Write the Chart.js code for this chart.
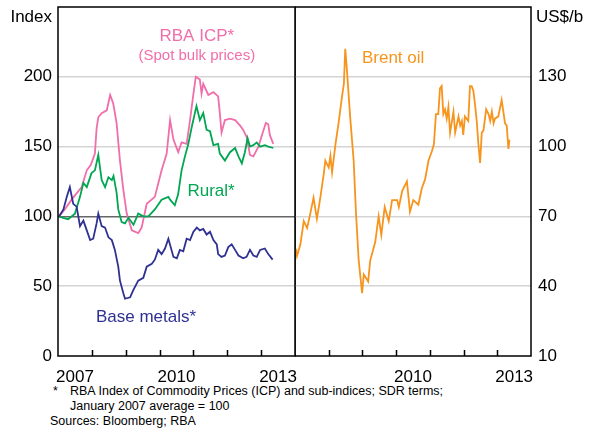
<!DOCTYPE html>
<html>
<head>
<meta charset="utf-8">
<script src="https://cdn.jsdelivr.net/npm/chart.js@4"></script>
<style>
  body { margin: 0; background: #fff; }
  #wrap { position: relative; width: 593px; height: 433px; font-family: "Liberation Sans", Arial, sans-serif; }
  canvas { position: absolute; top: 0; }
  .note { position: absolute; font-size: 12.5px; line-height: 15px; color: #000; white-space: nowrap; }
</style>
</head>
<body>
<div id="wrap">
  <canvas id="left" width="302" height="382" style="left:0"></canvas>
  <canvas id="right" width="298" height="382" style="left:295px"></canvas>
  <div class="note" style="left:53px; top:384px">*</div>
  <div class="note" style="left:70px; top:384px">RBA Index of Commodity Prices (ICP) and sub-indices; SDR terms;</div>
  <div class="note" style="left:70px; top:399px">January 2007 average = 100</div>
  <div class="note" style="left:50px; top:414px">Sources: Bloomberg; RBA</div>
</div>
<script>
"use strict";

// RBA ICP (spot bulk prices), index
const icpDates = [2007.03, 2007.20, 2007.40, 2007.70, 2007.85, 2007.97, 2008.09, 2008.14, 2008.19, 2008.29,
    2008.44, 2008.54, 2008.63, 2008.73, 2008.83, 2008.93, 2009.03, 2009.18, 2009.37, 2009.47,
    2009.62, 2009.86, 2010.06, 2010.21, 2010.31, 2010.41, 2010.55, 2010.65, 2010.80, 2010.90,
    2011.00, 2011.07, 2011.19, 2011.24, 2011.29, 2011.44, 2011.59, 2011.73, 2011.78, 2011.83,
    2011.93, 2012.08, 2012.23, 2012.38, 2012.47, 2012.57, 2012.67, 2012.77, 2012.92, 2013.06,
    2013.14, 2013.21, 2013.26, 2013.36];
const icpValues = [100, 105, 112, 121, 133, 137, 145, 163, 171, 174,
    176, 187, 181, 167, 140, 119, 102, 90, 88, 92,
    109, 114, 133, 145, 169, 155, 146, 153, 152, 169,
    188, 200, 198, 188, 195, 187, 189, 186, 174, 160,
    169, 170, 169, 165, 162, 157, 144, 143, 150, 161,
    167, 166, 158, 152];

// Rural sub-index
const ruralDates = [2007.03, 2007.15, 2007.30, 2007.50, 2007.65, 2007.75, 2007.85, 2007.99, 2008.09, 2008.19,
    2008.29, 2008.39, 2008.49, 2008.59, 2008.64, 2008.73, 2008.78, 2008.88, 2008.98, 2009.08,
    2009.23, 2009.37, 2009.52, 2009.67, 2009.86, 2010.06, 2010.26, 2010.31, 2010.45, 2010.55,
    2010.65, 2010.75, 2010.85, 2010.95, 2011.09, 2011.19, 2011.29, 2011.39, 2011.49, 2011.59,
    2011.73, 2011.78, 2011.93, 2012.08, 2012.23, 2012.33, 2012.43, 2012.52, 2012.60, 2012.67,
    2012.77, 2012.87, 2012.97, 2013.11, 2013.21, 2013.36];
const ruralValues = [100, 99, 98, 102, 114, 124, 121, 131, 133, 144,
    126, 121, 128, 126, 129, 117, 105, 96, 95, 99,
    94, 102, 100, 100, 105, 112, 114, 112, 108, 116,
    133, 143, 152, 164, 179, 169, 174, 162, 161, 151,
    152, 145, 140, 146, 149, 143, 138, 146, 156, 150,
    151, 153, 150, 151, 150, 149];

// Base metals sub-index
const metalsDates = [2007.03, 2007.16, 2007.26, 2007.35, 2007.45, 2007.55, 2007.65, 2007.75, 2007.85, 2007.95,
    2008.04, 2008.14, 2008.19, 2008.29, 2008.39, 2008.49, 2008.59, 2008.68, 2008.78, 2008.83,
    2008.93, 2008.98, 2009.13, 2009.22, 2009.37, 2009.52, 2009.62, 2009.77, 2009.86, 2009.96,
    2010.06, 2010.16, 2010.26, 2010.41, 2010.51, 2010.60, 2010.70, 2010.80, 2010.90, 2011.00,
    2011.10, 2011.19, 2011.29, 2011.39, 2011.49, 2011.59, 2011.69, 2011.73, 2011.83, 2011.93,
    2012.03, 2012.13, 2012.23, 2012.33, 2012.47, 2012.57, 2012.67, 2012.77, 2012.87, 2012.97,
    2013.11, 2013.21, 2013.34];
const metalsValues = [100, 105, 114, 121, 109, 107, 93, 97, 90, 83,
    84, 95, 102, 93, 92, 85, 83, 76, 64, 54,
    45, 41, 42, 47, 54, 56, 64, 66, 69, 76,
    73, 77, 84, 71, 70, 76, 75, 84, 83, 89,
    92, 90, 91, 87, 89, 83, 80, 73, 71, 72,
    78, 80, 76, 72, 70, 71, 76, 72, 71, 76,
    77, 73, 69];

// Brent oil, US$ per barrel
const brentDates = [2007.03, 2007.06, 2007.16, 2007.26, 2007.36, 2007.45, 2007.55, 2007.65, 2007.75, 2007.85,
    2007.90, 2008.00, 2008.05, 2008.10, 2008.20, 2008.30, 2008.39, 2008.45, 2008.49, 2008.54,
    2008.64, 2008.74, 2008.81, 2008.89, 2008.99, 2009.04, 2009.17, 2009.23, 2009.38, 2009.48,
    2009.56, 2009.66, 2009.78, 2009.88, 2010.03, 2010.08, 2010.18, 2010.32, 2010.41, 2010.51,
    2010.66, 2010.76, 2010.86, 2010.96, 2011.06, 2011.12, 2011.18, 2011.25, 2011.30, 2011.35,
    2011.40, 2011.45, 2011.50, 2011.55, 2011.60, 2011.70, 2011.75, 2011.85, 2011.90, 2011.95,
    2011.99, 2012.04, 2012.14, 2012.19, 2012.24, 2012.29, 2012.34, 2012.39, 2012.44, 2012.49,
    2012.54, 2012.59, 2012.67, 2012.74, 2012.79, 2012.84, 2012.89, 2012.93, 2013.03, 2013.13,
    2013.23, 2013.28, 2013.33, 2013.36];
const brentValues = [56, 53, 58, 68, 65, 71, 78, 69, 78, 88,
    94, 91, 96, 89, 101, 111, 121, 127, 142, 133,
    112, 94, 71, 51, 37, 45, 42, 51, 59, 70,
    62, 74, 68, 77, 77, 74, 81, 85, 72, 77,
    75, 82, 86, 94, 98, 101, 114, 114, 125, 126,
    114, 116, 112, 117, 106, 115, 106, 113, 109, 111,
    105, 113, 111, 126, 126, 124, 118, 111, 101, 93,
    106, 107, 116, 114, 111, 115, 110, 112, 113, 120,
    110, 109, 99, 103];

// year labels sit mid-year; the right panel has no 2007 label
const leftYearLabels = [2007.5, 2010.5, 2013.5];
const rightYearLabels = [2010.5, 2013.5];
const indexTicks = [0, 50, 100, 150, 200, 250];
const oilTicks = [10, 40, 70, 100, 130, 160];

const font = "'Liberation Sans', Arial, sans-serif";

function points(dates, values) {
    return dates.map((d, i) => ({ x: d, y: values[i] }));
}

function line(dates, values, color) {
    return {
        data: points(dates, values),
        borderColor: color,
        borderWidth: 1.8,
        pointRadius: 0,
        tension: 0,
        fill: false
    };
}

// frame, inward year ticks, unit label and in-plot labels
const decor = {
    id: 'decor',
    afterDatasetsDraw(chart, args, opts) {
        const c = chart.ctx;
        const a = chart.chartArea;
        const xs = chart.scales.x;
        const ys = chart.scales.y;
        c.save();
        c.strokeStyle = '#000';
        c.lineWidth = 1.5;
        c.strokeRect(a.left, a.top, a.right - a.left, a.bottom - a.top);
        c.beginPath();
        for (let yr = 2008; yr <= 2013; yr++) {
            const px = Math.round(xs.getPixelForValue(yr)) + 0.5;
            c.moveTo(px, a.bottom);
            c.lineTo(px, a.bottom - 6);
        }
        c.stroke();

        c.font = '17px ' + font;
        c.fillStyle = '#000';
        c.textBaseline = 'middle';
        if (opts.side === 'left') {
            c.textAlign = 'right';
            c.fillText(opts.unit, a.left - 6, a.top + 10);
        } else {
            c.textAlign = 'left';
            c.fillText(opts.unit, a.right + 5, a.top + 10);
        }

        c.textAlign = 'center';
        opts.labels.forEach(l => {
            c.font = l.size + 'px ' + font;
            c.fillStyle = l.color;
            c.fillText(l.text, xs.getPixelForValue(l.x), ys.getPixelForValue(l.y));
        });
        c.restore();
    }
};

function xAxis(labels) {
    return {
        type: 'linear',
        min: 2007,
        max: 2014,
        grid: { display: false },
        border: { display: false },
        afterBuildTicks: (s) => { s.ticks = labels.map(v => ({ value: v })); },
        afterFit: (s) => { s.height = 26; s.paddingLeft = 0; s.paddingRight = 0; },
        ticks: {
            padding: 3,
            color: '#000',
            font: { size: 17, family: font },
            maxRotation: 0,
            autoSkip: false,
            callback: (v) => String(Math.floor(v))
        }
    };
}

function yAxis(ticks, position, width, darkValue, pad) {
    const top = ticks[ticks.length - 1];
    return {
        type: 'linear',
        position: position,
        min: ticks[0],
        max: top,
        border: { display: false },
        afterBuildTicks: (s) => { s.ticks = ticks.map(v => ({ value: v })); },
        afterFit: (s) => { s.width = width; s.paddingTop = 0; s.paddingBottom = 0; },
        grid: {
            drawTicks: false,
            color: (ctx) => {
                const v = ctx.tick.value;
                if (v === ticks[0] || v === top) return 'rgba(0,0,0,0)';
                return v === darkValue ? '#666666' : '#d4d4d4';
            },
            lineWidth: 1.5
        },
        ticks: {
            padding: pad,
            color: '#000',
            font: { size: 17, family: font },
            callback: (v) => v === top ? '' : String(v)
        }
    };
}

new Chart(document.getElementById('left'), {
    type: 'line',
    data: {
        datasets: [
            line(metalsDates, metalsValues, '#2E3192'),
            line(ruralDates, ruralValues, '#00A651'),
            line(icpDates, icpValues, '#F06EAA')
        ]
    },
    options: {
        responsive: false,
        animation: false,
        layout: { padding: { top: 7, right: 7, left: 0, bottom: 0 } },
        scales: {
            x: xAxis(leftYearLabels),
            y: yAxis(indexTicks, 'left', 58, 100, 6)
        },
        plugins: {
            legend: { display: false },
            tooltip: { enabled: false },
            decor: {
                side: 'left',
                unit: 'Index',
                labels: [
                    { text: 'RBA ICP*', x: 2011.1, y: 229, size: 17, color: '#F06EAA' },
                    { text: '(Spot bulk prices)', x: 2011.1, y: 215, size: 15, color: '#F06EAA' },
                    { text: 'Rural*', x: 2011.52, y: 118, size: 17, color: '#00A651' },
                    { text: 'Base metals*', x: 2009.6, y: 28, size: 17, color: '#2E3192' }
                ]
            }
        }
    },
    plugins: [decor]
});

new Chart(document.getElementById('right'), {
    type: 'line',
    data: {
        datasets: [line(brentDates, brentValues, '#F7941D')]
    },
    options: {
        responsive: false,
        animation: false,
        layout: { padding: { top: 7, right: 0, left: 0, bottom: 0 } },
        scales: {
            x: xAxis(rightYearLabels),
            y: yAxis(oilTicks, 'right', 62, null, 7)
        },
        plugins: {
            legend: { display: false },
            tooltip: { enabled: false },
            decor: {
                side: 'right',
                unit: 'US$/b',
                labels: [
                    { text: 'Brent oil', x: 2009.91, y: 138, size: 17, color: '#F7941D' }
                ]
            }
        }
    },
    plugins: [decor]
});
</script>
</body>
</html>
